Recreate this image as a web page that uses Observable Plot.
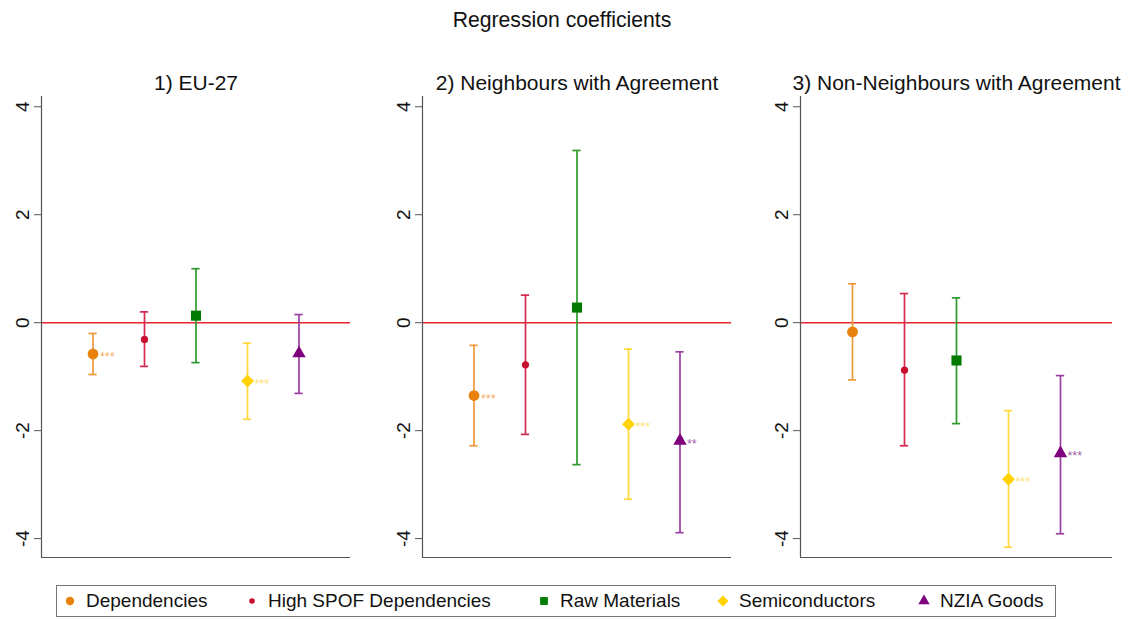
<!DOCTYPE html>
<html>
<head>
<meta charset="utf-8">
<script src="https://cdn.jsdelivr.net/npm/d3@7"></script>
<script src="https://cdn.jsdelivr.net/npm/@observablehq/plot@0.6"></script>
<style>
  body { margin: 0; background: #fff; font-family: "Liberation Sans", Arial, sans-serif; }
  #root { position: relative; width: 1128px; height: 619px; overflow: hidden; background: #fff; }
  .abs { position: absolute; }
  #title { top: 9px; left: 0; width: 1124px; text-align: center; font-size: 21.2px; line-height: 21px; color: #111; }
  #legend { left: 56px; top: 585px; width: 1000px; height: 32px; border: 1px solid #777; box-sizing: border-box; }
  .litem { position: absolute; top: 0; height: 30px; display: flex; align-items: center; font-size: 19px; color: #111; white-space: nowrap; }
  .litem svg { margin-right: 9px; }
</style>
</head>
<body>
<div id="root">
  <div id="title" class="abs">Regression coefficients</div>
  <div id="legend" class="abs"></div>
</div>
<script>
// ---------- data ----------
const categories = ["Dependencies", "High SPOF Dependencies", "Raw Materials", "Semiconductors", "NZIA Goods"];
const panels = ["1) EU-27", "2) Neighbours with Agreement", "3) Non-Neighbours with Agreement"];
const coefEU = [-0.58, -0.31, 0.13, -1.08, -0.57];
const lowerEU = [-0.96, -0.81, -0.74, -1.79, -1.31];
const upperEU = [-0.20, 0.20, 1.00, -0.38, 0.15];
const starsEU = ["***", "", "", "***", ""];
const coefNb = [-1.35, -0.78, 0.28, -1.88, -2.19];
const lowerNb = [-2.28, -2.07, -2.63, -3.27, -3.89];
const upperNb = [-0.42, 0.51, 3.19, -0.49, -0.54];
const starsNb = ["***", "", "", "***", "**"];
const coefNon = [-0.17, -0.88, -0.70, -2.90, -2.42];
const lowerNon = [-1.06, -2.28, -1.87, -4.16, -3.91];
const upperNon = [0.72, 0.54, 0.46, -1.63, -0.98];
const starsNon = ["", "", "", "***", "***"];
const yTicks = [-4, -2, 0, 2, 4];
const yDomain = [-4.35, 4.19];

// ---------- styles ----------
const markerColors = ["#E8820C", "#C8102E", "#007A00", "#FFD200", "#7F007F"];
const barColors = ["#EE9A3A", "#D42A50", "#2E9A2E", "#FFD83A", "#9A40A0"];
const starColors = ["#F2AE66", "#E0708A", "#66B866", "#FFE070", "#A060A8"];
const symbols = ["circle", "circle", "square", "diamond2", "triangle"];
const radii = [5.4, 3.6, 5.7, 5.8, 5];
const axisColor = "#555";
const zeroColor = "#E8252A";

const panelData = [
  [coefEU, lowerEU, upperEU, starsEU],
  [coefNb, lowerNb, upperNb, starsNb],
  [coefNon, lowerNon, upperNon, starsNon]
];
const layout = [
  {left: 0, ml: 41, pw: 309, w: 370},
  {left: 380, ml: 42, pw: 309, w: 370},
  {left: 758, ml: 42, pw: 312, w: 370}
];
const cap = 0.08;

const root = document.getElementById("root");

panels.forEach((name, k) => {
  const [coef, lo, hi, st] = panelData[k];
  const rows = categories.map((c, i) => ({
    cat: c, pos: i + 1, coef: coef[i], lo: lo[i], hi: hi[i], star: st[i],
    mcol: markerColors[i], bcol: barColors[i], scol: starColors[i], sym: symbols[i], rad: radii[i]
  }));
  const L = layout[k];
  const chart = Plot.plot({
    width: L.w, height: 512,
    marginTop: 46, marginBottom: 5, marginLeft: L.ml, marginRight: L.w - L.ml - L.pw,
    x: {domain: [0, 6], axis: null},
    y: {domain: yDomain},
    r: {type: "identity"},
    style: {fontFamily: "'Liberation Sans', Arial, sans-serif", overflow: "visible", background: "transparent", color: "#111"},
    marks: [
      Plot.ruleY([0], {stroke: zeroColor, strokeWidth: 1.5}),
      Plot.ruleX([0], {stroke: axisColor, strokeWidth: 1.2}),
      Plot.ruleY([yDomain[0]], {stroke: axisColor, strokeWidth: 1.2}),
      Plot.axisY({ticks: yTicks, tickSize: 7, tickFormat: () => "", stroke: axisColor}),
      Plot.text(yTicks, {y: d => d, text: d => String(d), frameAnchor: "left", rotate: -90, dx: -13,
        textAnchor: "middle", lineAnchor: "bottom", fontSize: 19, fill: "#111"}),
      Plot.ruleX(rows, {x: "pos", y1: "lo", y2: "hi", stroke: "bcol", strokeWidth: 1.7}),
      Plot.ruleY(rows, {y: "lo", x1: d => d.pos - cap, x2: d => d.pos + cap, stroke: "bcol", strokeWidth: 1.7}),
      Plot.ruleY(rows, {y: "hi", x1: d => d.pos - cap, x2: d => d.pos + cap, stroke: "bcol", strokeWidth: 1.7}),
      Plot.dot(rows, {x: "pos", y: "coef", symbol: "sym", r: "rad", fill: "mcol", stroke: "none"}),
      Plot.text(rows, {x: "pos", y: "coef", text: "star", fill: "scol", textAnchor: "start", dx: 7, dy: 3, fontSize: 12.5}),
      Plot.text([name], {frameAnchor: "top", lineAnchor: "middle", dy: -13, fontSize: 21, fill: "#111"})
    ]
  });
  chart.style.position = "absolute";
  chart.style.left = L.left + "px";
  chart.style.top = "50px";
  root.appendChild(chart);
});

// ---------- legend ----------
const legend = document.getElementById("legend");
const legendX = [6, 188, 480, 659, 860];
const legendR = [4.2, 2.8, 4.4, 5, 4.2];
const symMap = {circle: d3.symbolCircle, square: d3.symbolSquare, diamond2: d3.symbolDiamond2, triangle: d3.symbolTriangle};
categories.forEach((c, i) => {
  const item = document.createElement("div");
  item.className = "litem";
  item.style.left = legendX[i] + "px";
  const r = legendR[i];
  const path = d3.symbol(symMap[symbols[i]], Math.PI * r * r)();
  item.innerHTML = `<svg width="14" height="14" viewBox="-7 -7 14 14"><path d="${path}" fill="${markerColors[i]}"></path></svg><span>${c}</span>`;
  legend.appendChild(item);
});
</script>
</body>
</html>
